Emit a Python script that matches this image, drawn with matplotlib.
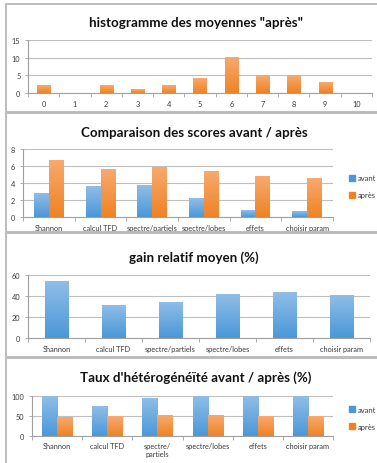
import numpy as np
import matplotlib
matplotlib.use('Agg')
from matplotlib import pyplot as plt
from matplotlib.colors import LinearSegmentedColormap
from matplotlib.patches import Rectangle

# data
hist_bins = ['0', '1', '2', '3', '4', '5', '6', '7', '8', '9', '10']
hist_counts = [2, 0, 2, 1, 2, 4, 10, 5, 5, 3, 0]

themes = ['Shannon', 'calcul TFD', 'spectre/partiels', 'spectre/lobes', 'effets', 'choisir param']
themes_wrap = ['Shannon', 'calcul TFD', 'spectre/\npartiels', 'spectre/lobes', 'effets', 'choisir param']

scores_avant = [2.75, 3.6, 3.7, 2.15, 0.75, 0.65]
scores_apres = [6.6, 5.55, 5.8, 5.35, 4.75, 4.5]

gain_relatif = [53.7, 31.4, 34.2, 41.6, 43.3, 40.5]

hetero_avant = [100, 74, 94, 100, 100, 100]
hetero_apres = [47, 50, 52, 52, 50, 50]

W, H = 377, 464
BLUE = ('#8fbde7', '#4b98d8')
ORANGE = ('#f7a96e', '#ef8324')
GRID = '#bfbfbf'
TXT = '#3a3a3a'

plt.rcParams['font.family'] = ['Lato', 'DejaVu Sans']

fig = plt.figure(figsize=(W / 100, H / 100), dpi=100)
fig.patch.set_facecolor('white')


def box(x0, y0, x1, y1):
    fig.add_artist(Rectangle((x0 / W, 1 - y1 / H), (x1 - x0) / W, (y1 - y0) / H,
                             transform=fig.transFigure, fill=False,
                             ec='#bcbcbc', lw=1.4))


def ax_at(x0, y0, x1, y1):
    return fig.add_axes([x0 / W, 1 - y1 / H, (x1 - x0) / W, (y1 - y0) / H])


def title(text, x, y):
    fig.text(x / W, 1 - y / H, text, ha='center', va='center',
             fontsize=9.6, fontweight='bold', color='#111111')


def shade(ax, bars, colors):
    cmap = LinearSegmentedColormap.from_list('g', [colors[1], colors[0]])
    grad = np.linspace(0, 1, 64).reshape(-1, 1)
    for b in bars:
        h = b.get_height()
        if h <= 0:
            continue
        x, w = b.get_x(), b.get_width()
        ax.imshow(grad, cmap=cmap, extent=(x, x + w, 0, h), origin='lower',
                  aspect='auto', zorder=2, interpolation='bilinear')


def style(ax, labels, top, step, fs=5.3):
    n = len(labels)
    ax.set_xlim(-0.5, n - 0.5)
    ax.set_ylim(0, top)
    ax.set_yticks(np.arange(0, top + step / 2, step))
    ax.set_xticks(range(n))
    ax.set_xticklabels(labels, fontsize=fs, color=TXT, linespacing=1.3)
    ax.set_xticks(np.arange(-0.5, n, 1), minor=True)
    ax.tick_params(axis='x', which='major', length=0, pad=5)
    ax.tick_params(axis='x', which='minor', length=3, color='#a0a0a0', width=0.6)
    ax.tick_params(axis='y', length=2.5, color='#a0a0a0', width=0.6,
                   labelsize=fs, labelcolor=TXT, pad=3)
    ax.grid(axis='y', color=GRID, lw=0.8)
    ax.set_axisbelow(True)
    for s in ('top', 'right'):
        ax.spines[s].set_visible(False)
    for s in ('left', 'bottom'):
        ax.spines[s].set_color('#a0a0a0')
        ax.spines[s].set_linewidth(0.8)
    ax.spines['bottom'].set_zorder(3)


def legend(ax):
    h = [Rectangle((0, 0), 1, 1, color=BLUE[1]), Rectangle((0, 0), 1, 1, color=ORANGE[1])]
    ax.legend(h, ['avant', 'après'], loc='center left', bbox_to_anchor=(1.03, 0.45),
              frameon=False, fontsize=5.5, handlelength=0.8, handleheight=0.8,
              handletextpad=0.3, labelspacing=1.3, labelcolor=TXT)


# panel frames
box(6, 5, 378, 113)
box(6, 114, 378, 233)
box(6, 234, 378, 358)
box(6, 359, 378, 470)

# 1 - histogram
title('histogramme des moyennes "après"', 196, 23)
ax1 = ax_at(28, 41, 372, 94)
x = np.arange(len(hist_bins))
b = ax1.bar(x, hist_counts, width=0.42, color=ORANGE[1], zorder=2)
shade(ax1, b, ORANGE)
style(ax1, hist_bins, 15, 5)

# 2 - scores avant / apres
title('Comparaison des scores avant / après', 194, 133)
ax2 = ax_at(23, 150, 333, 218)
x = np.arange(len(themes))
w = 0.29
b1 = ax2.bar(x - w / 2, scores_avant, width=w, color=BLUE[1], zorder=2)
b2 = ax2.bar(x + w / 2, scores_apres, width=w, color=ORANGE[1], zorder=2)
shade(ax2, b1, BLUE)
shade(ax2, b2, ORANGE)
style(ax2, themes, 8, 2)
legend(ax2)

# 3 - gain relatif
title('gain relatif moyen (%)', 194, 258)
ax3 = ax_at(28, 276, 370, 339)
b = ax3.bar(x, gain_relatif, width=0.42, color=BLUE[1], zorder=2)
shade(ax3, b, BLUE)
style(ax3, themes, 60, 20)

# 4 - heterogeneite
title("Taux d'hétérogénéïté avant / après (%)", 196, 378)
ax4 = ax_at(32, 397, 333, 437)
b1 = ax4.bar(x - 0.15, hetero_avant, width=0.3, color=BLUE[1], zorder=2)
b2 = ax4.bar(x + 0.15, hetero_apres, width=0.3, color=ORANGE[1], zorder=2)
shade(ax4, b1, BLUE)
shade(ax4, b2, ORANGE)
style(ax4, themes_wrap, 100, 50)
ax4.tick_params(axis='x', which='major', pad=4)
legend(ax4)

fig.savefig('out.png', dpi=100)
